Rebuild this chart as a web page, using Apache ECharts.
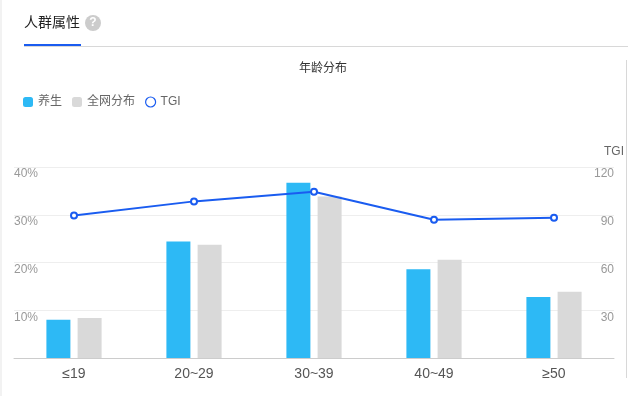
<!DOCTYPE html>
<html><head><meta charset="utf-8">
<style>html,body{margin:0;padding:0;background:#fff}#c{width:628px;height:396px}</style>
<script src="https://cdn.jsdelivr.net/npm/echarts@6/dist/echarts.min.js"></script>
</head><body><div id="c"></div>
<script>
const categories = ['≤19','20~29','30~39','40~49','≥50'];
const yangSheng = [8.0,24.4,36.7,18.6,12.8];
const quanWang = [8.4,23.7,33.8,20.6,13.9];
const tgi = [89.6,98.4,104.5,86.9,88.1];
const FONT = '"Liberation Sans","Noto Sans CJK SC",sans-serif';
const BLUE = '#1a5cf0';
const chart = echarts.init(document.getElementById('c'), null, {renderer:'canvas'});
chart.setOption({
  animation:false,
  textStyle:{fontFamily:FONT},
  title:{text:'年龄分布',left:323,top:63,padding:0,textAlign:'center',textStyle:{fontSize:12,fontWeight:'normal',color:'#333',fontFamily:FONT}},
  legend:{left:23,top:96,padding:0,itemWidth:10,itemHeight:10,itemGap:10,
    textStyle:{fontSize:12,color:'#666',fontFamily:FONT},
    data:[
      {name:'养生',icon:'roundRect'},
      {name:'全网分布',icon:'roundRect'},
      {name:'TGI',icon:'circle',itemStyle:{color:'#fff',borderColor:BLUE,borderWidth:1.2}}
    ]},
  grid:{left:14,right:14,top:167,bottom:38,containLabel:false},
  xAxis:{type:'category',data:categories,
    axisLine:{lineStyle:{color:'#ccc'}},axisTick:{show:false},
    axisLabel:{color:'#555',fontSize:14,margin:9,fontFamily:FONT}},
  yAxis:[
    {type:'value',min:0,max:40,interval:10,
      axisLine:{show:false},axisTick:{show:false},
      splitLine:{lineStyle:{color:'#eee'}},
      axisLabel:{inside:true,showMinLabel:false,color:'#999',fontSize:12,margin:0,verticalAlign:'top',padding:[1,0,0,0],formatter:'{value}%',fontFamily:FONT}},
    {type:'value',min:0,max:120,interval:30,name:'TGI',nameLocation:'end',nameGap:9,
      nameTextStyle:{color:'#666',fontSize:12,fontFamily:FONT},
      axisLine:{show:false},axisTick:{show:false},splitLine:{show:false},
      axisLabel:{inside:true,showMinLabel:false,color:'#999',fontSize:12,margin:0,verticalAlign:'top',padding:[1,0,0,0],fontFamily:FONT}}
  ],
  series:[
    {name:'养生',type:'bar',data:yangSheng,barWidth:24,barGap:'30%',itemStyle:{color:'#2db9f5'}},
    {name:'全网分布',type:'bar',data:quanWang,barWidth:24,barGap:'30%',itemStyle:{color:'#d9d9d9'}},
    {name:'TGI',type:'line',yAxisIndex:1,data:tgi,symbol:'circle',symbolSize:6,showSymbol:true,
      lineStyle:{color:BLUE,width:2},
      itemStyle:{color:'#fff',borderColor:BLUE,borderWidth:2},z:5}
  ],
  graphic:[
    {type:'rect',silent:true,z:100,shape:{x:0,y:0,width:2,height:396},style:{fill:'#f2f2f2'}},
    {type:'rect',silent:true,z:100,shape:{x:24,y:46,width:604,height:1},style:{fill:'#d8d8d8'}},
    {type:'rect',silent:true,z:101,shape:{x:24,y:44,width:57,height:2},style:{fill:BLUE}},
    {type:'rect',silent:true,z:100,shape:{x:626,y:60,width:1,height:318},style:{fill:'#d8d8d8'}},
    {type:'rect',silent:true,z:100,shape:{x:2,y:378,width:626,height:18},style:{fill:'#fff'}},
    {type:'text',silent:true,z:100,style:{x:24,y:23,text:'人群属性',font:'14px '+FONT,fill:'#222',textVerticalAlign:'middle'}},
    {type:'circle',silent:true,z:100,shape:{cx:93,cy:23,r:8},style:{fill:'#ccc'}},
    {type:'text',silent:true,z:101,style:{x:93,y:23,text:'?',font:'bold 12px '+FONT,fill:'#fff',textAlign:'center',textVerticalAlign:'middle'}}
  ]
});
</script></body></html>
